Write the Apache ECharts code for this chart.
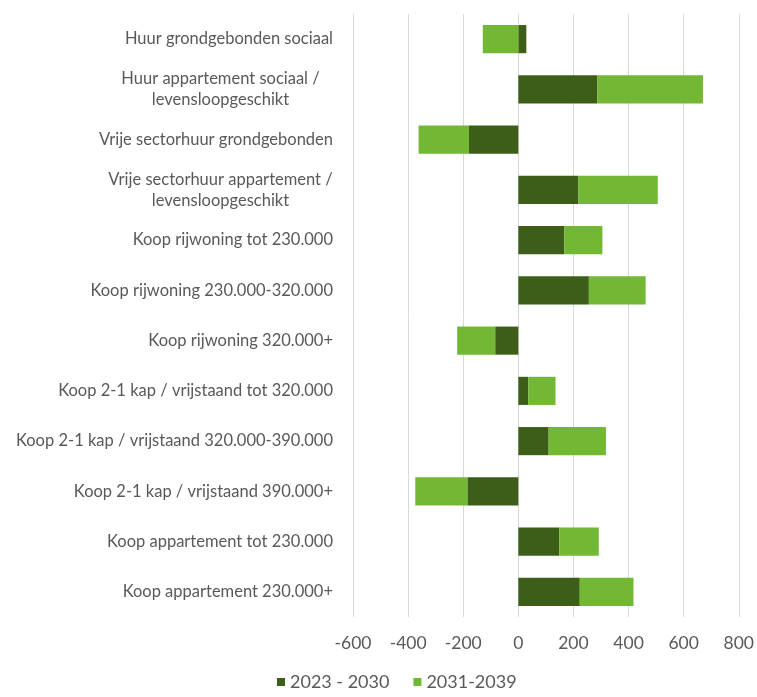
<!DOCTYPE html>
<html>
<head>
<meta charset="utf-8">
<script src="https://cdn.jsdelivr.net/npm/echarts@6/dist/echarts.min.js"></script>
<style>html,body{margin:0;padding:0;background:#fff;}#c{width:757px;height:697px;}</style>
</head>
<body>
<div id="c"></div>
<script>
const categories = [
  "Huur grondgebonden sociaal",
  "Huur appartement sociaal /\nlevensloopgeschikt",
  "Vrije sectorhuur grondgebonden",
  "Vrije sectorhuur appartement /\nlevensloopgeschikt",
  "Koop rijwoning tot 230.000",
  "Koop rijwoning 230.000-320.000",
  "Koop rijwoning 320.000+",
  "Koop 2-1 kap / vrijstaand tot 320.000",
  "Koop 2-1 kap / vrijstaand 320.000-390.000",
  "Koop 2-1 kap / vrijstaand 390.000+",
  "Koop appartement tot 230.000",
  "Koop appartement 230.000+"
];
const series2023_2030 = [29, 287, -179, 217, 167, 256, -84, 36, 110, -185, 149, 223];
const series2031_2039 = [-129, 383, -183, 289, 138, 206, -138, 99, 208, -189, 143, 195];
const xTicks = { min: -600, max: 800, interval: 200 };

const fontName = 'Lato';
const font = 'Lato, "Open Sans", sans-serif';
const labelSize = 16.5;

const ctx = document.createElement('canvas').getContext('2d');
ctx.font = labelSize + 'px ' + fontName;

const chart = echarts.init(document.getElementById('c'));
chart.setOption({
  animation: false,
  textStyle: { fontFamily: font },
  grid: { left: 353, right: 17, top: 14, bottom: 80 },
  legend: {
    data: ['2023 - 2030', '2031-2039'],
    top: 673,
    left: 277,
    padding: 0,
    icon: 'rect',
    itemWidth: 8,
    itemHeight: 8,
    itemGap: 24,
    textStyle: { fontSize: 18, color: '#595959', fontFamily: font }
  },
  xAxis: {
    type: 'value',
    min: xTicks.min, max: xTicks.max, interval: xTicks.interval,
    axisLine: { show: false },
    axisTick: { show: false },
    axisLabel: { fontSize: 17.5, color: '#595959', margin: 17, fontFamily: font },
    splitLine: { lineStyle: { color: '#d9d9d9', width: 1 } }
  },
  yAxis: {
    type: 'category',
    data: categories,
    inverse: true,
    axisLine: { show: false },
    axisTick: { show: false },
    axisLabel: {
      fontSize: labelSize, color: '#595959', margin: 20, align: 'right', fontFamily: font, lineHeight: 21,
      formatter: function (v) {
        const lines = v.split('\n');
        if (lines.length === 1) return v;
        return lines.map(l => '{c|' + l + '}').join('\n');
      },
      rich: {
        c: {
          fontSize: labelSize, color: '#595959', fontFamily: font, lineHeight: 21, align: 'center',
          width: Math.ceil(ctx.measureText('Vrije sectorhuur appartement /').width)
        }
      }
    },
    splitLine: { show: false }
  },
  series: [
    { name: '2023 - 2030', type: 'bar', stack: 'a', barWidth: '56%', data: series2023_2030,
      itemStyle: { color: '#3d5e18' } },
    { name: '2031-2039', type: 'bar', stack: 'a', barWidth: '56%', data: series2031_2039,
      itemStyle: { color: '#72b835' } }
  ]
});
</script>
</body>
</html>
